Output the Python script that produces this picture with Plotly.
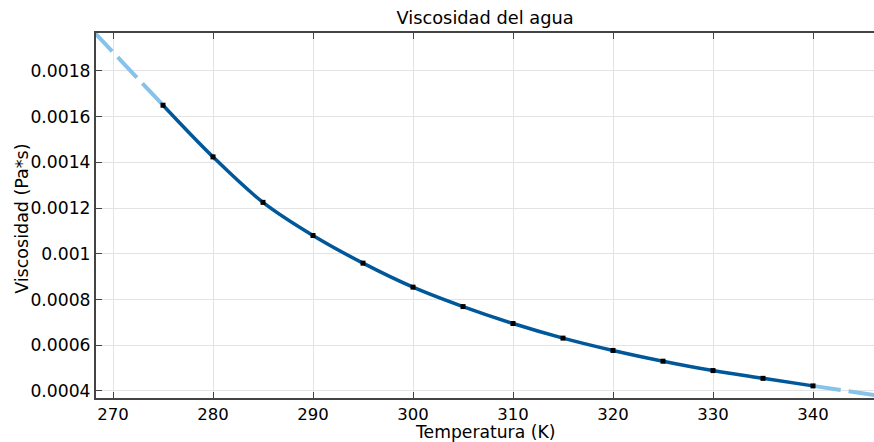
import plotly.graph_objects as go

temps = [275, 280, 285, 290, 295, 300, 305, 310, 315, 320, 325, 330, 335, 340]
visc = [0.001650, 0.001424, 0.001225, 0.001080, 0.000959, 0.000854, 0.000769,
        0.000695, 0.000631, 0.000577, 0.000530, 0.000489, 0.000455, 0.000422]
ext_left_x = [268.0, 275]
ext_left_y = [0.001975, 0.001650]
ext_right_x = [340, 347.0]
ext_right_y = [0.000422, 0.000376]

x_ticks = [270, 280, 290, 300, 310, 320, 330, 340]
y_ticks = [0.0004, 0.0006, 0.0008, 0.001, 0.0012, 0.0014, 0.0016, 0.0018]
y_labels = ["0.0004", "0.0006", "0.0008", "0.001", "0.0012", "0.0014", "0.0016", "0.0018"]

light = "#86c2ea"
dark = "#00589b"

fig = go.Figure()
fig.add_trace(go.Scatter(x=ext_left_x, y=ext_left_y, mode="lines",
                         line=dict(color=light, width=4, dash="28px,8px"), hoverinfo="skip"))
fig.add_trace(go.Scatter(x=ext_right_x, y=ext_right_y, mode="lines",
                         line=dict(color=light, width=4, dash="28px,8px"), hoverinfo="skip"))
fig.add_trace(go.Scatter(x=temps, y=visc, mode="lines",
                         line=dict(color=dark, width=3.5, shape="spline", smoothing=1.0)))
fig.add_trace(go.Scatter(x=temps, y=visc, mode="markers",
                         marker=dict(color="black", size=5, symbol="square")))

font = "DejaVu Sans, sans-serif"
fig.update_layout(
    width=874, height=442,
    margin=dict(l=96, r=0, t=33, b=44),
    paper_bgcolor="white", plot_bgcolor="white",
    showlegend=False,
    font=dict(family=font, color="black", size=17),
    title=dict(text="Viscosidad del agua", x=0.555, xanchor="center", y=0.96, yanchor="middle",
               font=dict(size=17.8, family=font)),
    xaxis=dict(range=[268.3, 346.1], tickvals=x_ticks, ticks="inside", ticklen=6,
               tickcolor="#444", showline=True, linecolor="#444", linewidth=2, mirror="ticks",
               showgrid=True, gridcolor="#e3e3e3", gridwidth=1, zeroline=False,
               tickfont=dict(size=16.5)),
    yaxis=dict(range=[0.000369, 0.001966], tickvals=y_ticks, ticktext=y_labels,
               ticks="inside", ticklen=6, tickcolor="#444",
               showline=True, linecolor="#444", linewidth=2, mirror=False,
               showgrid=True, gridcolor="#e3e3e3", gridwidth=1, zeroline=False,
               tickfont=dict(size=17.2)),
    annotations=[
        dict(text="Temperatura (K)", xref="paper", yref="paper", x=0.5, y=-0.093,
             xanchor="center", yanchor="middle", showarrow=False, font=dict(size=17.2)),
        dict(text="Viscosidad (Pa*s)", xref="paper", yref="paper", x=-0.0955, y=0.49,
             xanchor="center", yanchor="middle", textangle=-90, showarrow=False,
             font=dict(size=17.5)),
    ],
)
fig.write_html("out.html")
